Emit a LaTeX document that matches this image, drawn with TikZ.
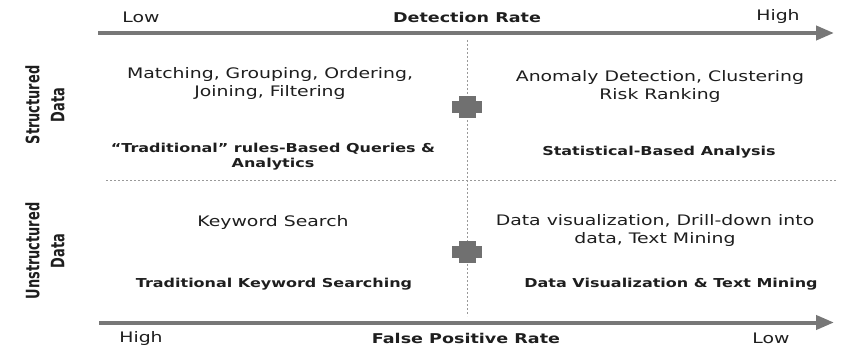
\documentclass[tikz,border=0pt]{standalone}
\usepackage{fontspec}
\setmainfont{DejaVu Sans}[FakeStretch=1.3]
\newfontfamily\sidefont{DejaVu Sans}[FakeStretch=0.7]
\usetikzlibrary{arrows.meta}
\definecolor{axisgray}{HTML}{777777}
\definecolor{plusgray}{HTML}{707070}
\definecolor{linegray}{HTML}{999999}
\definecolor{textdark}{HTML}{1E1E1E}
\tikzset{
  reg/.style={font=\fontsize{14.5}{18}\selectfont, align=center, inner sep=0pt, text=textdark},
  bld/.style={font=\fontsize{12.3}{15.5}\selectfont\bfseries, align=center, inner sep=0pt, text=textdark},
  axtitle/.style={font=\fontsize{13.5}{16}\selectfont\bfseries, inner sep=0pt, text=textdark},
  side/.style={font=\fontsize{18.5}{25}\selectfont\sidefont\bfseries, align=center, inner sep=0pt, rotate=90, text=textdark},
  axis/.style={line width=4pt, draw=axisgray, -{Triangle[length=18pt,width=14pt]}},
  sep/.style={draw=linegray, line width=0.7pt, dash pattern=on 2pt off 2pt},
  plusshape/.style={fill=plusgray, draw=none}
}
\begin{document}
\begin{tikzpicture}[x=1pt,y=-1pt]
\useasboundingbox (0,0) rectangle (841,350);
% axes
\coordinate (ta0) at (98,33); \coordinate (ta1) at (834,33);
\coordinate (ba0) at (99,322.5); \coordinate (ba1) at (834,322.5);
\draw[axis] (ta0) -- (ta1);
\draw[axis] (ba0) -- (ba1);
% separators
\coordinate (v0) at (467,40); \coordinate (v1) at (467,316);
\coordinate (h0) at (106,180); \coordinate (h1) at (836,180);
\draw[sep] (v0) -- (v1);
\draw[sep] (h0) -- (h1);
% plus signs
\foreach \n/\cy in {p1/107, p2/252}{
  \fill[plusshape] (452,\cy-6) rectangle (482,\cy+6);
  \fill[plusshape] (458.5,\cy-11) rectangle (475.5,\cy+11);
}
% top labels
\node[reg] (tlow) at (141,17) {Low};
\node[axtitle] (ttitle) at (467,17) {Detection Rate};
\node[reg] (thigh) at (778,17) {High};
% bottom labels
\node[reg] (bhigh) at (141,338) {High};
\node[axtitle] (btitle) at (466,338) {False Positive Rate};
\node[reg] (blow) at (771,338) {Low};
% side labels
\node[side] (sstruct) at (45,105) {Structured\\Data};
\node[side] (sunstruct) at (45,251) {Unstructured\\Data};
% quadrants
\node[reg] (q1a) at (270,84) {Matching, Grouping, Ordering,\\Joining, Filtering};
\node[bld] (q1b) at (273,156.5) {“Traditional” rules-Based Queries \&\\Analytics};
\node[reg] (q2a) at (660,87) {Anomaly Detection, Clustering\\Risk Ranking};
\node[bld] (q2b) at (659,152) {Statistical-Based Analysis};
\node[reg] (q3a) at (273,222) {Keyword Search};
\node[bld] (q3b) at (274,284) {Traditional Keyword Searching};
\node[reg] (q4a) at (655,230) {Data visualization, Drill-down into\\data, Text Mining};
\node[bld] (q4b) at (671,284) {Data Visualization \& Text Mining};
\end{tikzpicture}
\end{document}
